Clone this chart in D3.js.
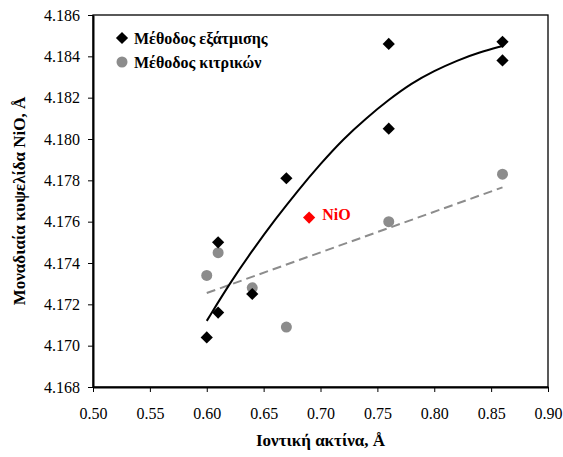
<!DOCTYPE html>
<html>
<head>
<meta charset="utf-8">
<script src="https://cdn.jsdelivr.net/npm/d3@7"></script>
<style>
  body { margin: 0; background: #fff; }
  text { font-family: "Liberation Serif", "Times New Roman", serif; }
</style>
</head>
<body>
<div id="chart"></div>
<script>
// data
const evapX = [0.60, 0.61, 0.61, 0.64, 0.67, 0.76, 0.76, 0.86, 0.86];
const evapY = [4.1704, 4.1716, 4.1750, 4.1725, 4.1781, 4.1846, 4.1805, 4.1847, 4.1838];
const citrX = [0.60, 0.61, 0.64, 0.67, 0.76, 0.86];
const citrY = [4.1734, 4.1745, 4.1728, 4.1709, 4.1760, 4.1783];
const nioX = [0.69];
const nioY = [4.1762];
// points along the black trend curve
const trendX = [0.60, 0.62, 0.64, 0.66, 0.68, 0.70, 0.72, 0.74, 0.76, 0.78, 0.80, 0.82, 0.84, 0.86];
const trendY = [4.1712, 4.1730, 4.1746, 4.1761, 4.1775, 4.1788, 4.1800, 4.1810, 4.1819, 4.1827, 4.1833, 4.1838, 4.1842, 4.1845];
const xTicks = [0.50, 0.55, 0.60, 0.65, 0.70, 0.75, 0.80, 0.85, 0.90];
const yTicks = [4.168, 4.170, 4.172, 4.174, 4.176, 4.178, 4.180, 4.182, 4.184, 4.186];
const legendNames = ["Μέθοδος εξάτμισης", "Μέθοδος κιτρικών"];

const W = 563, H = 457;
const m = {left: 93, right: 15, top: 15, bottom: 70};

const svg = d3.select("#chart").append("svg")
    .attr("width", W).attr("height", H);

const x = d3.scaleLinear().domain([0.50, 0.90]).range([m.left, W - m.right]);
const y = d3.scaleLinear().domain([4.168, 4.186]).range([H - m.bottom, m.top]);

// plot frame
svg.append("rect")
    .attr("x", x(0.50)).attr("y", y(4.186))
    .attr("width", x(0.90) - x(0.50)).attr("height", y(4.168) - y(4.186))
    .attr("fill", "none").attr("stroke", "#000").attr("stroke-width", 1.3);

// axes
const xAxis = svg.append("g")
    .attr("transform", `translate(0,${y(4.168)})`)
    .call(d3.axisBottom(x).tickValues(xTicks).tickSize(5).tickSizeOuter(0).tickPadding(16)
        .tickFormat(d3.format(".2f")));
const yAxis = svg.append("g")
    .attr("transform", `translate(${x(0.50)},0)`)
    .call(d3.axisLeft(y).tickValues(yTicks).tickSize(5).tickSizeOuter(0).tickPadding(8)
        .tickFormat(d3.format(".3f")));
[xAxis, yAxis].forEach(a => {
    a.select(".domain").attr("stroke", "#000").attr("stroke-width", 2);
    a.selectAll(".tick line").attr("stroke", "#000").attr("stroke-width", 1);
    a.selectAll(".tick text").attr("font-size", 16).attr("fill", "#000")
        .style("font-family", "'Liberation Serif', serif");
});

// grey dashed trend: least squares line through the citrate series
const linFit = (xs, ys) => {
    const mx = d3.mean(xs), my = d3.mean(ys);
    const sxy = d3.sum(xs, (v, i) => (v - mx) * (ys[i] - my));
    const sxx = d3.sum(xs, v => (v - mx) * (v - mx));
    const b = sxy / sxx;
    return t => my + b * (t - mx);
};
const fCitr = linFit(citrX, citrY);
const lineEnds = [d3.min(citrX), d3.max(citrX)];

svg.append("path")
    .attr("d", d3.line().x(d => x(d)).y(d => y(fCitr(d)))(lineEnds))
    .attr("fill", "none").attr("stroke", "#8c8c8c").attr("stroke-width", 2)
    .attr("stroke-dasharray", "9,5");

// black trend curve
svg.append("path")
    .datum(trendX)
    .attr("d", d3.line().curve(d3.curveBasis).x(d => x(d)).y((d, i) => y(trendY[i])))
    .attr("fill", "none").attr("stroke", "#000").attr("stroke-width", 2);

// markers
const diamond = d3.symbol().type(d3.symbolDiamond2).size(95);
svg.selectAll("circle.citr").data(citrX).enter().append("circle")
    .attr("class", "citr")
    .attr("cx", d => x(d)).attr("cy", (d, i) => y(citrY[i]))
    .attr("r", 5.5).attr("fill", "#8c8c8c");
svg.selectAll("path.evap").data(evapX).enter().append("path")
    .attr("class", "evap")
    .attr("d", diamond)
    .attr("transform", (d, i) => `translate(${x(d)},${y(evapY[i])})`)
    .attr("fill", "#000");
svg.selectAll("path.nio").data(nioX).enter().append("path")
    .attr("class", "nio")
    .attr("d", diamond)
    .attr("transform", (d, i) => `translate(${x(d)},${y(nioY[i])})`)
    .attr("fill", "#ff0000");
svg.append("text")
    .attr("x", x(nioX[0]) + 13).attr("y", y(nioY[0]) + 2)
    .attr("font-size", 16).attr("font-weight", "bold").attr("fill", "#ff0000")
    .text("NiO");

// legend
const lg = svg.append("g").attr("transform", "translate(122,38)");
lg.append("path").attr("d", diamond).attr("fill", "#000");
lg.append("circle").attr("cy", 24).attr("r", 5.5).attr("fill", "#8c8c8c");
lg.selectAll("text").data(legendNames).enter().append("text")
    .attr("x", 12).attr("y", (d, i) => i * 24 + 5.5)
    .attr("font-size", 16).attr("font-weight", "bold").attr("fill", "#000")
    .text(d => d);

// axis titles
svg.append("text")
    .attr("x", (x(0.50) + x(0.90)) / 2).attr("y", 446)
    .attr("text-anchor", "middle").attr("font-size", 17).attr("font-weight", "bold")
    .text("Ιοντική ακτίνα, Å");
svg.append("text")
    .attr("transform", `translate(25,${(y(4.168) + y(4.186)) / 2}) rotate(-90)`)
    .attr("text-anchor", "middle").attr("font-size", 17).attr("font-weight", "bold")
    .text("Μοναδιαία κυψελίδα NiO, Å");
</script>
</body>
</html>
